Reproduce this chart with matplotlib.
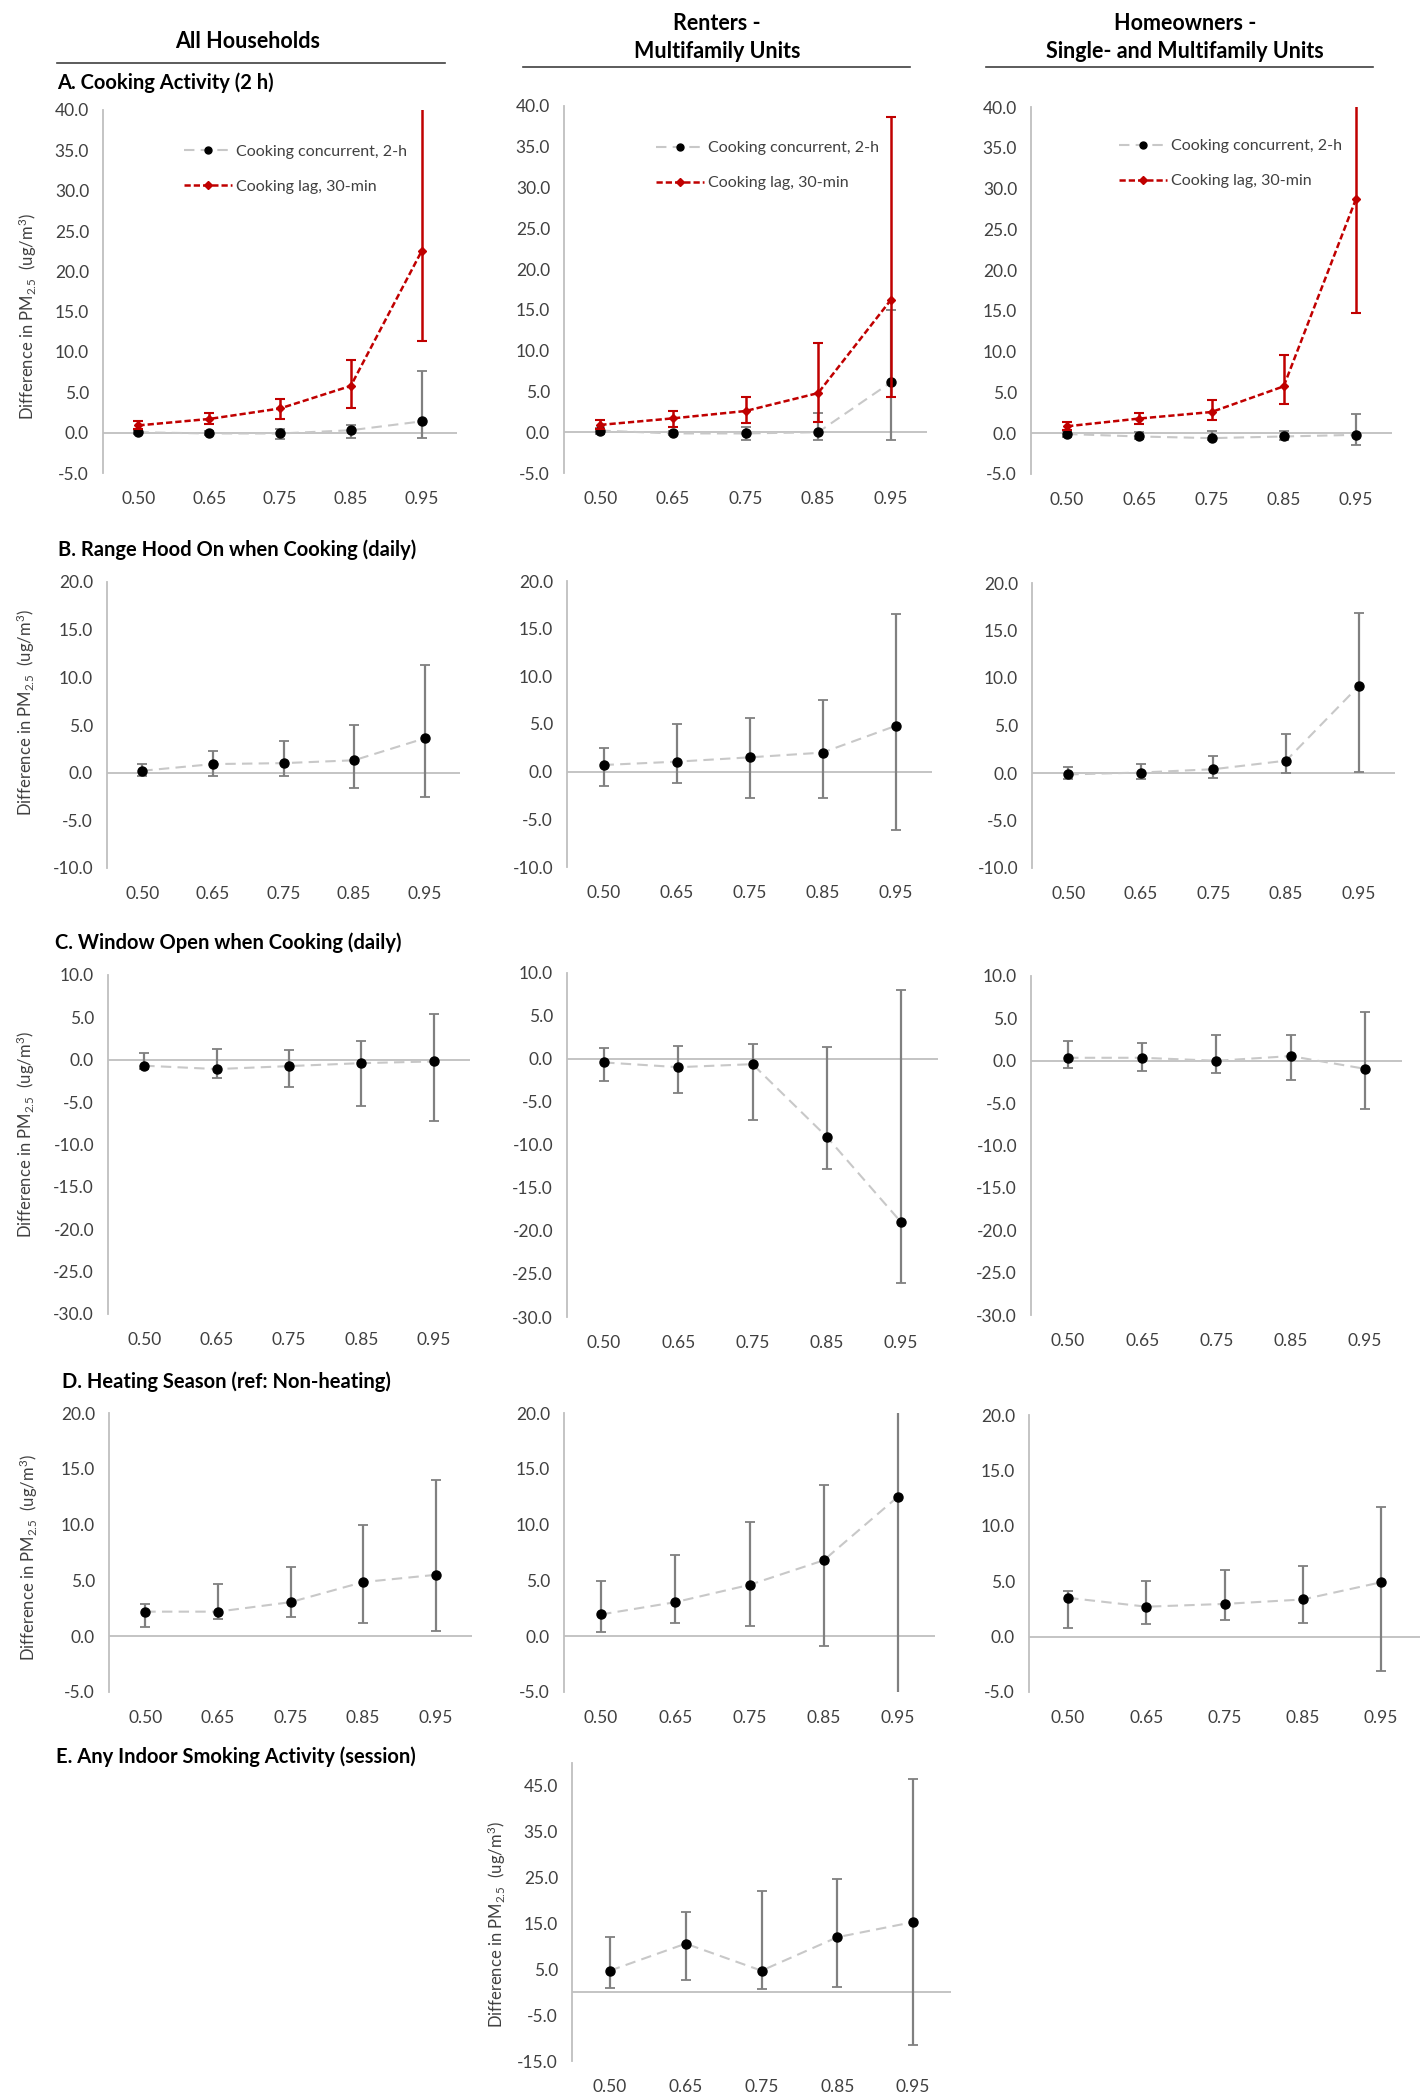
import numpy as np
import matplotlib
matplotlib.use("Agg")
import matplotlib.pyplot as plt
from matplotlib.lines import Line2D
from matplotlib.ticker import FormatStrFormatter

plt.rcParams['font.family'] = ['Lato', 'DejaVu Sans']
plt.rcParams['mathtext.default'] = 'regular'
plt.rcParams['axes.unicode_minus'] = False

quantiles = ['0.50', '0.65', '0.75', '0.85', '0.95']

# A. cooking activity - concurrent 2-h (point, lower, upper)
cook_conc_all = [0.05, -0.1, -0.1, 0.3, 1.4]
cook_conc_all_lo = [-0.2, -0.35, -0.8, -0.6, -0.6]
cook_conc_all_hi = [0.3, 0.2, 0.5, 1.0, 7.6]
cook_conc_rent = [0.2, -0.15, -0.15, 0.0, 6.1]
cook_conc_rent_lo = [-0.2, -0.4, -0.9, -0.9, -0.9]
cook_conc_rent_hi = [0.5, 0.1, 0.6, 2.4, 15.0]
cook_conc_own = [-0.1, -0.4, -0.6, -0.4, -0.2]
cook_conc_own_lo = [-0.5, -0.7, -0.8, -0.8, -1.5]
cook_conc_own_hi = [0.3, 0.2, 0.3, 0.3, 2.4]

# A. cooking activity - lag 30-min
cook_lag_all = [0.9, 1.7, 3.0, 5.8, 22.5]
cook_lag_all_lo = [0.5, 1.1, 1.7, 3.0, 11.4]
cook_lag_all_hi = [1.5, 2.4, 4.2, 9.0, 41.0]
cook_lag_rent = [0.9, 1.7, 2.6, 4.8, 16.2]
cook_lag_rent_lo = [0.4, 0.7, 1.1, 1.3, 4.3]
cook_lag_rent_hi = [1.5, 2.6, 4.3, 10.9, 38.7]
cook_lag_own = [0.85, 1.8, 2.6, 5.75, 28.7]
cook_lag_own_lo = [0.45, 1.15, 1.6, 3.55, 14.8]
cook_lag_own_hi = [1.4, 2.45, 4.1, 9.6, 41.0]

# B. range hood on
hood_all = [0.2, 0.9, 1.0, 1.3, 3.6]
hood_all_lo = [-0.35, -0.35, -0.35, -1.6, -2.6]
hood_all_hi = [0.9, 2.3, 3.3, 5.0, 11.3]
hood_rent = [0.7, 1.05, 1.5, 2.0, 4.8]
hood_rent_lo = [-1.5, -1.2, -2.8, -2.8, -6.1]
hood_rent_hi = [2.5, 5.0, 5.6, 7.55, 16.5]
hood_own = [-0.15, 0.05, 0.4, 1.3, 9.15]
hood_own_lo = [-0.6, -0.6, -0.5, 0.0, 0.1]
hood_own_hi = [0.6, 0.95, 1.8, 4.1, 16.8]

# C. window open
window_all = [-0.7, -1.1, -0.75, -0.4, -0.2]
window_all_lo = [-1.05, -2.15, -3.2, -5.4, -7.25]
window_all_hi = [0.75, 1.3, 1.15, 2.25, 5.35]
window_rent = [-0.4, -0.95, -0.6, -9.05, -18.95]
window_rent_lo = [-2.6, -4.0, -7.05, -12.8, -26.0]
window_rent_hi = [1.25, 1.55, 1.75, 1.45, 8.05]
window_own = [0.35, 0.35, 0.0, 0.55, -0.95]
window_own_lo = [-0.8, -1.2, -1.5, -2.3, -5.75]
window_own_hi = [2.3, 2.1, 3.05, 3.05, 5.8]

# D. heating season
heat_all = [2.2, 2.2, 3.05, 4.85, 5.5]
heat_all_lo = [0.8, 1.5, 1.75, 1.2, 0.5]
heat_all_hi = [2.85, 4.7, 6.2, 9.95, 14.0]
heat_rent = [1.95, 3.05, 4.6, 6.8, 12.5]
heat_rent_lo = [0.35, 1.2, 0.9, -0.9, -6.0]
heat_rent_hi = [4.95, 7.3, 10.25, 13.55, 21.0]
heat_own = [3.5, 2.7, 2.95, 3.35, 4.9]
heat_own_lo = [0.8, 1.1, 1.5, 1.2, -3.1]
heat_own_hi = [4.15, 5.0, 6.0, 6.4, 11.7]

# E. smoking (renters only)
smoke_rent = [4.7, 10.6, 4.7, 12.0, 15.3]
smoke_rent_lo = [1.0, 2.6, 0.6, 1.2, -11.5]
smoke_rent_hi = [12.0, 17.6, 22.0, 24.7, 46.5]

W, H = 1426, 2100
fig = plt.figure(figsize=(W / 100, H / 100), dpi=100)
TXT = '#404040'
x = np.arange(len(quantiles))


def add_ax(x0, y0, x1, y1):
    return fig.add_axes([x0 / W, 1 - y1 / H, (x1 - x0) / W, (y1 - y0) / H])


def style(ax, ylim, ticks):
    ax.set_xlim(-0.5, 4.5)
    ax.set_ylim(ylim)
    ax.set_yticks(ticks)
    ax.yaxis.set_major_formatter(FormatStrFormatter('%.1f'))
    ax.set_xticks(x)
    ax.set_xticklabels(quantiles)
    for s in ['top', 'right', 'bottom']:
        ax.spines[s].set_visible(False)
    ax.spines['left'].set_color('#bfbfbf')
    ax.spines['left'].set_linewidth(1.3)
    ax.tick_params(axis='both', length=0, labelsize=12.5, colors=TXT)
    ax.tick_params(axis='x', pad=13)
    ax.tick_params(axis='y', pad=10)
    ax.axhline(0, color='#bfbfbf', lw=1.3, zorder=1)
    ax.patch.set_alpha(0)


def conc(ax, y, lo, hi):
    y, lo, hi = map(np.array, (y, lo, hi))
    ax.errorbar(x, y, yerr=[y - lo, hi - y], fmt='none', ecolor='#808080',
                elinewidth=1.6, capsize=3.5, capthick=1.3, zorder=2)
    ax.plot(x, y, ls=(0, (5, 3)), color='#c8c8c8', lw=1.5, marker='o',
            mfc='black', mec='black', ms=6.5, zorder=3)


def lag(ax, y, lo, hi):
    y, lo, hi = map(np.array, (y, lo, hi))
    ax.errorbar(x, y, yerr=[y - lo, hi - y], fmt='none', ecolor='#c00000',
                elinewidth=1.8, capsize=3.5, capthick=1.5, zorder=4)
    ax.plot(x, y, ls=(0, (2.5, 1.2)), color='#c00000', lw=1.8, marker='D',
            mfc='#c00000', mec='#c00000', ms=4.5, zorder=5)


def ylab(ax, px, py, x0, x1, y0, y1):
    # px is the label centre; the label's anchor is its right-hand side
    ax.set_ylabel(r'Difference in PM$_{2.5}$  (ug/m$^3$)', fontsize=12, color=TXT)
    ax.yaxis.set_label_coords((px + 9 - x0) / (x1 - x0), (y1 - py) / (y1 - y0))


def legend(ax, bx, by):
    h = [Line2D([], [], ls=(0, (5, 3)), color='#c8c8c8', lw=1.5, marker='o',
                mfc='black', mec='black', ms=5),
         Line2D([], [], ls=(0, (2.5, 1.2)), color='#c00000', lw=1.8, marker='D',
                mfc='#c00000', mec='#c00000', ms=4)]
    leg = ax.legend(h, ['Cooking concurrent, 2-h', 'Cooking lag, 30-min'],
                    loc='upper left', bbox_to_anchor=(bx, by), frameon=False,
                    fontsize=11.5, handlelength=3.0, handletextpad=0.3,
                    labelspacing=1.3, borderaxespad=0)
    for t in leg.get_texts():
        t.set_color(TXT)


# panel boxes in pixels (x0, y0, x1, y1)
boxA = [(103, 110, 457, 473), (564, 106, 927, 473), (1031, 107, 1392, 474)]
boxB = [(107, 582, 460, 868), (567, 581, 932, 867), (1032, 583, 1395, 868)]
boxC = [(108, 975, 470, 1314), (567, 973, 938, 1317), (1031, 976, 1402, 1315)]
boxD = [(109, 1413, 472, 1692), (564, 1413, 935, 1692), (1029, 1415, 1420, 1692)]
boxE = (572, 1763, 951, 2061)

conc_A = [(cook_conc_all, cook_conc_all_lo, cook_conc_all_hi),
          (cook_conc_rent, cook_conc_rent_lo, cook_conc_rent_hi),
          (cook_conc_own, cook_conc_own_lo, cook_conc_own_hi)]
lag_A = [(cook_lag_all, cook_lag_all_lo, cook_lag_all_hi),
         (cook_lag_rent, cook_lag_rent_lo, cook_lag_rent_hi),
         (cook_lag_own, cook_lag_own_lo, cook_lag_own_hi)]
data_B = [(hood_all, hood_all_lo, hood_all_hi), (hood_rent, hood_rent_lo, hood_rent_hi),
          (hood_own, hood_own_lo, hood_own_hi)]
data_C = [(window_all, window_all_lo, window_all_hi), (window_rent, window_rent_lo, window_rent_hi),
          (window_own, window_own_lo, window_own_hi)]
data_D = [(heat_all, heat_all_lo, heat_all_hi), (heat_rent, heat_rent_lo, heat_rent_hi),
          (heat_own, heat_own_lo, heat_own_hi)]
leg_pos = [(0.21, 0.922), (0.235, 0.922), (0.225, 0.93)]

for i in range(3):
    b = boxA[i]
    ax = add_ax(*b)
    style(ax, (-5, 40), np.arange(-5, 40.1, 5))
    conc(ax, *conc_A[i])
    lag(ax, *lag_A[i])
    legend(ax, *leg_pos[i])
    if i == 0:
        ylab(ax, 30, 317, b[0], b[2], b[1], b[3])

    b = boxB[i]
    ax = add_ax(*b)
    style(ax, (-10, 20), np.arange(-10, 20.1, 5))
    conc(ax, *data_B[i])
    if i == 0:
        ylab(ax, 28, 713, b[0], b[2], b[1], b[3])

    b = boxC[i]
    ax = add_ax(*b)
    style(ax, (-30, 10), np.arange(-30, 10.1, 5))
    conc(ax, *data_C[i])
    if i == 0:
        ylab(ax, 28, 1135, b[0], b[2], b[1], b[3])

    b = boxD[i]
    ax = add_ax(*b)
    style(ax, (-5, 20), np.arange(-5, 20.1, 5))
    conc(ax, *data_D[i])
    if i == 0:
        ylab(ax, 31, 1558, b[0], b[2], b[1], b[3])

ax = add_ax(*boxE)
style(ax, (-15, 50), np.arange(-15, 45.1, 10))
conc(ax, smoke_rent, smoke_rent_lo, smoke_rent_hi)
ylab(ax, 499, 1925, boxE[0], boxE[2], boxE[1], boxE[3])


def ftext(px, py, s, **kw):
    fig.text(px / W, 1 - py / H, s, **kw)


# column headers
hdr = dict(fontsize=15.5, fontweight='bold', ha='center', va='center', color='black')
ftext(248, 42, 'All Households', **hdr)
ftext(717, 23, 'Renters -', **hdr)
ftext(717, 52, 'Multifamily Units', **hdr)
ftext(1185, 23, 'Homeowners -', **hdr)
ftext(1185, 52, 'Single- and Multifamily Units', **hdr)
for (a, c, yy) in [(57, 445, 63), (523, 910, 67), (986, 1373, 67)]:
    fig.add_artist(Line2D([a / W, c / W], [1 - yy / H, 1 - yy / H], color='#404040', lw=1.2))

# row titles
ttl = dict(fontsize=14.5, fontweight='bold', ha='left', va='center', color='black')
ftext(57, 83, 'A. Cooking Activity (2 h)', **ttl)
ftext(58, 550, 'B. Range Hood On when Cooking (daily)', **ttl)
ftext(55, 943, 'C. Window Open when Cooking (daily)', **ttl)
ftext(62, 1382, 'D. Heating Season (ref: Non-heating)', **ttl)
ftext(56, 1757, 'E. Any Indoor Smoking Activity (session)', **ttl)

fig.savefig('out.png', dpi=100, facecolor='white')
